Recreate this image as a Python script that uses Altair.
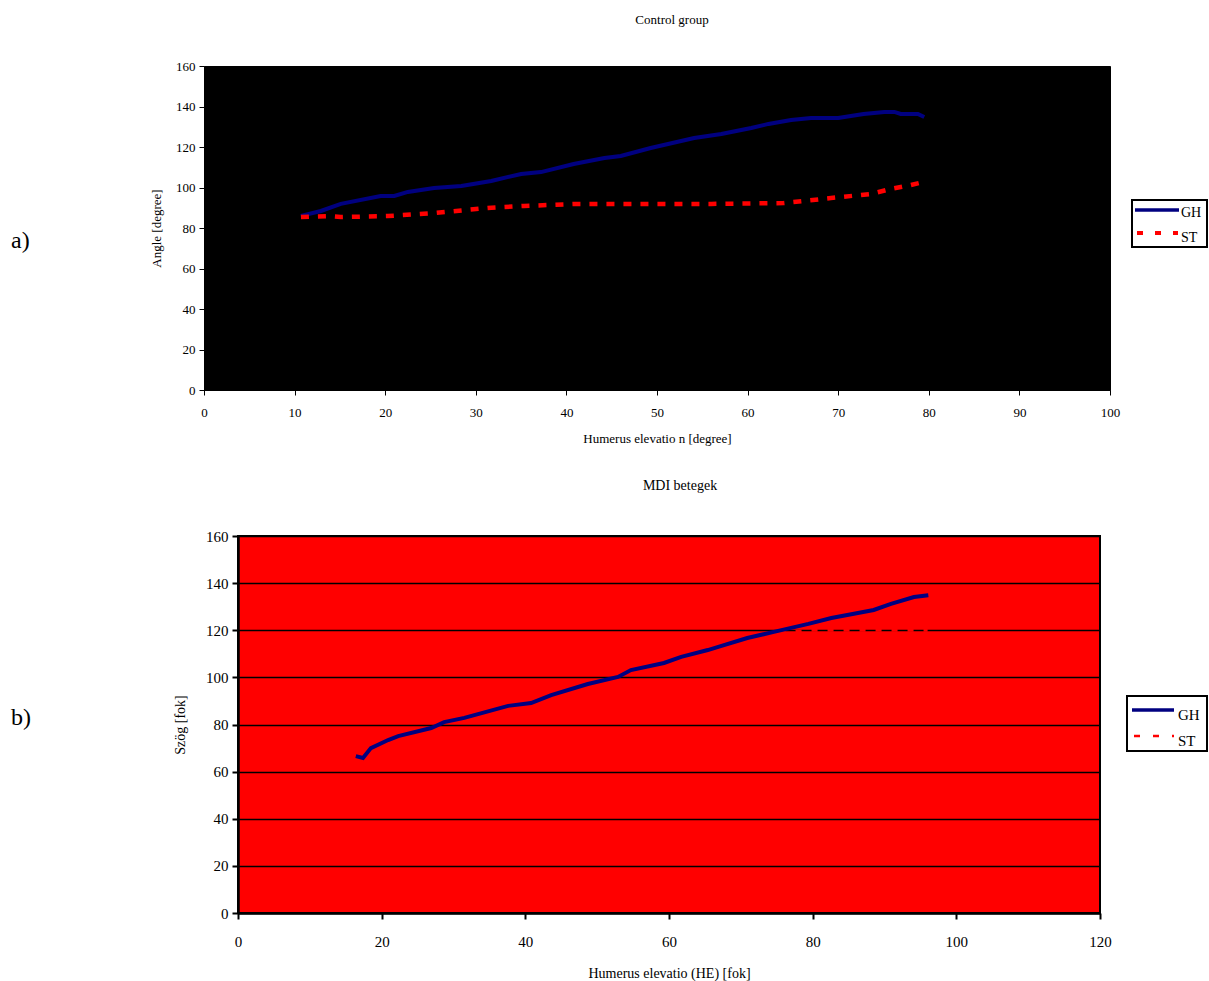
import altair as alt
import pandas as pd

FONT = "Liberation Serif"
NAVY = "#000080"
RED = "#FF0000"

# ---------------- Panel a) Control group ----------------
gh_a_x = [10.7, 12.9, 15.1, 19.5, 21.0, 22.5, 25.4, 28.4, 31.7, 35.0, 37.2, 40.8, 44.2, 46.0,
          49.3, 54.1, 57.1, 60.4, 62.3, 64.8, 67.0, 70.0, 72.8, 75.1, 76.2, 76.9, 78.8, 79.5]
gh_a_y = [86.0, 88.4, 91.9, 95.8, 95.8, 97.8, 99.8, 100.7, 103.2, 106.7, 107.6, 111.6, 114.6, 115.6,
          119.5, 124.4, 126.4, 129.4, 131.4, 133.3, 134.3, 134.3, 136.3, 137.3, 137.3, 136.3, 136.3, 134.8]
st_a_x = [10.7, 13.7, 15.1, 20.3, 25.4, 31.3, 35.3, 41.3, 48.2, 56.0, 64.0, 69.2, 73.6, 75.8, 78.0, 79.4, 79.6]
st_a_y = [85.4, 85.9, 85.4, 85.9, 87.4, 89.9, 90.9, 91.9, 91.9, 91.9, 92.3, 94.8, 96.8, 99.3, 101.2, 102.7, 103.8]
a_xticks = [0, 10, 20, 30, 40, 50, 60, 70, 80, 90, 100]
a_yticks = [0, 20, 40, 60, 80, 100, 120, 140, 160]

# ---------------- Panel b) MDI betegek ----------------
gh_b_x = [16.4, 17.4, 18.5, 20.9, 22.3, 26.9, 28.7, 31.5, 37.6, 40.8, 43.6, 48.7, 52.9, 54.7,
          59.3, 61.7, 65.4, 67.2, 70.9, 74.6, 79.4, 82.6, 86.3, 88.5, 90.9, 94.1, 96.1]
gh_b_y = [66.6, 65.8, 70.0, 73.4, 75.1, 78.5, 81.0, 82.8, 87.9, 89.1, 92.5, 97.2, 100.2, 103.1,
          106.1, 108.7, 111.6, 113.3, 116.7, 119.3, 122.7, 125.2, 127.3, 128.6, 131.2, 134.1, 134.9]
st_b_x = [71.0, 75.0, 80.0, 85.0, 90.0, 96.0]
st_b_y = [117.0, 119.0, 120.0, 120.0, 120.0, 120.0]
b_xticks = [0, 20, 40, 60, 80, 100, 120]
b_yticks = [0, 20, 40, 60, 80, 100, 120, 140, 160]

series_names = ["GH", "ST"]


def df(xs, ys):
    return pd.DataFrame({"x": xs, "y": ys})


def one_row(label):
    return alt.Data(values=[{"s": label}])


def axis(values, title, lab_size, title_size, dom_w, tick_w, tick_size, lab_pad, title_pad, grid=False):
    kw = dict(values=values, title=title, domainColor="black", domainWidth=dom_w,
              tickColor="black", tickWidth=tick_w, tickSize=tick_size,
              labelFont=FONT, labelFontSize=lab_size, labelColor="black", labelPadding=lab_pad,
              labelFlush=False, labelOverlap=False,
              titleFont=FONT, titleFontSize=title_size, titleFontWeight="normal",
              titleColor="black", titlePadding=title_pad, grid=grid)
    if grid:
        kw.update(gridColor="black", gridWidth=1.5)
    return alt.Axis(**kw)


def legend(box, gh_line, st_line, text_x, gh_ty, st_ty, fsize, gh_w, st_w, st_dash):
    x1, x2, y1, y2 = box
    layers = [
        alt.Chart(one_row("box")).mark_rect(fill="white", stroke="black", strokeWidth=2).encode(
            x=alt.value(x1), x2=alt.value(x2), y=alt.value(y1), y2=alt.value(y2)),
        alt.Chart(one_row("GH")).mark_rule(color=NAVY, strokeWidth=gh_w).encode(
            x=alt.value(gh_line[0]), x2=alt.value(gh_line[1]), y=alt.value(gh_line[2])),
        alt.Chart(one_row("ST")).mark_rule(color=RED, strokeWidth=st_w, strokeDash=st_dash).encode(
            x=alt.value(st_line[0]), x2=alt.value(st_line[1]), y=alt.value(st_line[2])),
        alt.Chart(one_row(series_names[0])).mark_text(align="left", baseline="middle", font=FONT,
                                                     fontSize=fsize, color="black").encode(
            x=alt.value(text_x), y=alt.value(gh_ty), text="s:N"),
        alt.Chart(one_row(series_names[1])).mark_text(align="left", baseline="middle", font=FONT,
                                                     fontSize=fsize, color="black").encode(
            x=alt.value(text_x), y=alt.value(st_ty), text="s:N"),
    ]
    return layers


# ----- panel a -----
WA, HA = 906, 324
xa = alt.X("x:Q", scale=alt.Scale(domain=[0, 100], nice=False),
           axis=axis(a_xticks, "Humerus elevatio n [degree]", 13, 13, 1, 1, 5, 11.5, 13))
ya = alt.Y("y:Q", scale=alt.Scale(domain=[0, 160], nice=False),
           axis=axis(a_yticks, "Angle [degree]", 13, 13, 1, 1, 5, 4, 12))

gh_a = alt.Chart(df(gh_a_x, gh_a_y)).mark_line(color=NAVY, strokeWidth=4).encode(x=xa, y=ya)
st_a = alt.Chart(df(st_a_x, st_a_y)).mark_line(color=RED, strokeWidth=4.5, strokeDash=[8, 9]).encode(x=xa, y=ya)
lab_a = alt.Chart(one_row("a)")).mark_text(align="left", baseline="middle", font=FONT, fontSize=24,
                                           color="black").encode(x=alt.value(-193), y=alt.value(175), text="s:N")

panel_a = alt.layer(
    gh_a, st_a, lab_a,
    *legend((928, 1003, 134, 181), (931, 975, 144), (933, 974, 167), 977, 147, 172, 14, 3.5, 4, [6, 12])
).properties(
    width=WA, height=HA,
    title=alt.TitleParams("Control group", font=FONT, fontSize=13, fontWeight="normal", color="black",
                          frame="group", dx=15, offset=33),
    view=alt.ViewBackground(fill="black", stroke="black"),
)

# ----- panel b -----
WB, HB = 862, 377
xb = alt.X("x:Q", scale=alt.Scale(domain=[0, 120], nice=False),
           axis=axis(b_xticks, "Humerus elevatio (HE) [fok]", 15, 14, 2.5, 2, 6, 15, 17.5))
yb = alt.Y("y:Q", scale=alt.Scale(domain=[0, 160], nice=False),
           axis=axis(b_yticks, "Szög [fok]", 15, 14, 2.5, 2, 6, 4, 18, grid=True))

st_b = alt.Chart(df(st_b_x, st_b_y)).mark_line(color=RED, strokeWidth=3, strokeDash=[6, 10]).encode(x=xb, y=yb)
gh_b = alt.Chart(df(gh_b_x, gh_b_y)).mark_line(color=NAVY, strokeWidth=4).encode(x=xb, y=yb)
lab_b = alt.Chart(one_row("b)")).mark_text(align="left", baseline="middle", font=FONT, fontSize=24,
                                           color="black").encode(x=alt.value(-227), y=alt.value(182), text="s:N")

panel_b = alt.layer(
    st_b, gh_b, lab_b,
    *legend((889, 969, 160, 215), (894, 936, 174), (896, 936, 200), 940, 179, 205, 15, 3.5, 2.5, [6, 13])
).properties(
    width=WB, height=HB,
    title=alt.TitleParams("MDI betegek", font=FONT, fontSize=14, fontWeight="normal", color="black",
                          frame="group", dx=11, offset=36),
    view=alt.ViewBackground(fill=RED, stroke="black", strokeWidth=2),
)

# narrow invisible spacer shifts panel b's plot area 34 px to the right of panel a's
spacer = alt.Chart(one_row("")).mark_text(opacity=0).encode(text="s:N").properties(
    width=1, height=1, view=alt.ViewBackground(stroke="transparent", fill="transparent"))
row_b = alt.HConcatChart(hconcat=[spacer, panel_b], spacing=33, bounds="flush")

chart = alt.VConcatChart(vconcat=[panel_a, row_b], spacing=32).properties(
    padding={"left": 10, "top": 13, "right": 0, "bottom": 0},
    background="white",
)

chart.save("out.html", embed_options={"renderer": "svg", "actions": False})
